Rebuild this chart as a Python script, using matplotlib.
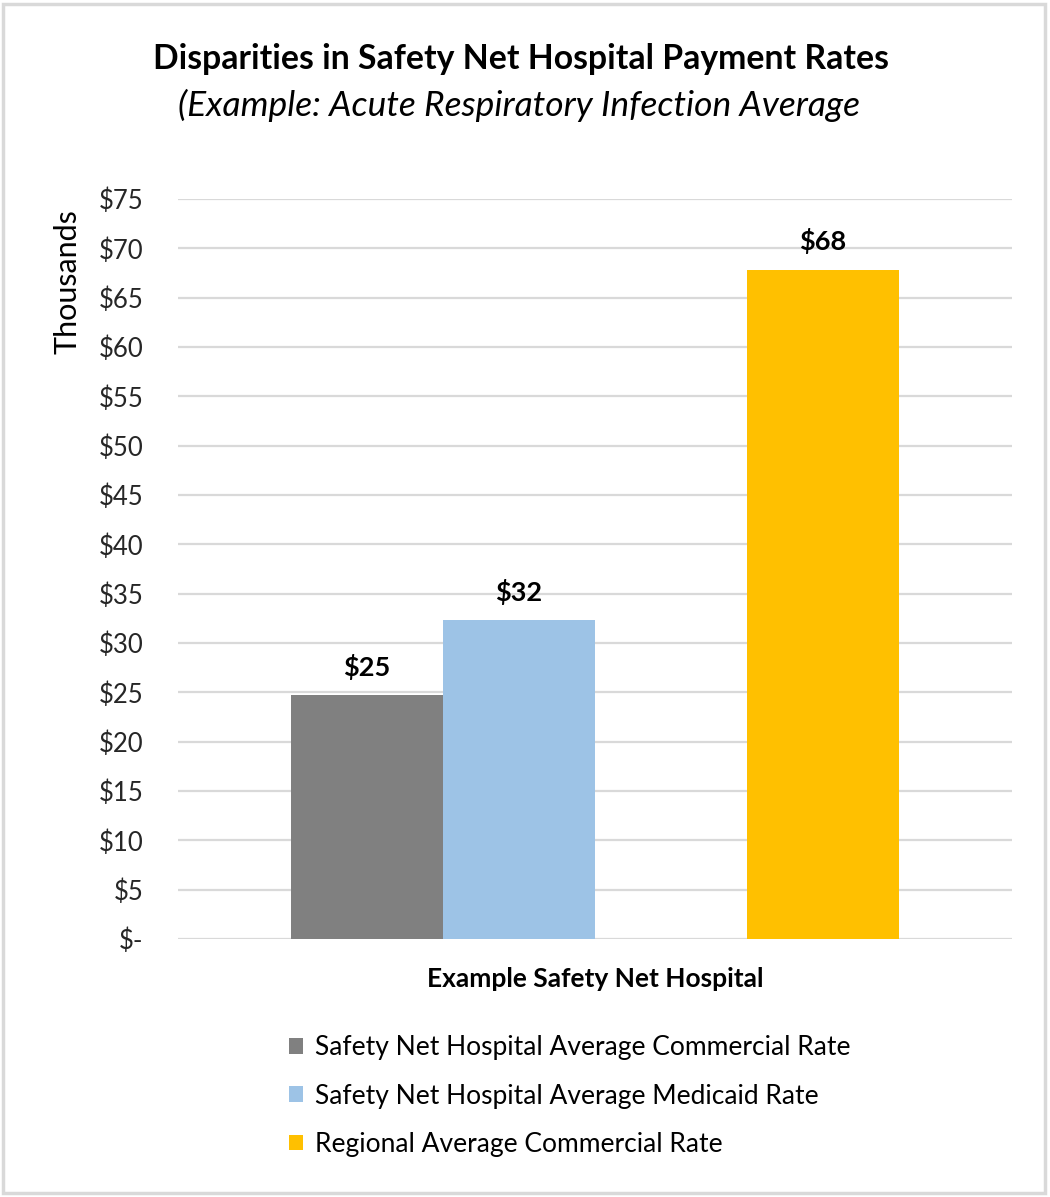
import matplotlib
matplotlib.use("Agg")
import matplotlib.pyplot as plt
from matplotlib.patches import Rectangle, Patch

series = ["Safety Net Hospital Average Commercial Rate",
          "Safety Net Hospital Average Medicaid Rate",
          "Regional Average Commercial Rate"]
values = [24.7, 32.3, 67.8]
labels = ["$25", "$32", "$68"]
colors = ["#808080", "#9dc3e6", "#ffc000"]
category = "Example Safety Net Hospital"
yticks = list(range(0, 80, 5))
yticklabels = ["$-"] + [f"${v}" for v in yticks[1:]]

plt.rcParams['font.family'] = ['Lato', 'DejaVu Sans']

fig = plt.figure(figsize=(10.5, 11.97), dpi=100)
fig.patches.append(Rectangle((0.003, 0.003), 0.992, 0.994, transform=fig.transFigure,
                             fill=False, edgecolor="#d9d9d9", linewidth=2.5))

ax = fig.add_axes([0.1695, 0.2155, 0.7943, 0.6182])
offsets = [-1.5, -0.5, 1.5]
for off, v, c, lab in zip(offsets, values, colors, labels):
    ax.bar(off, v, width=1.0, color=c, zorder=3)
    ax.text(off, v + 1.6, lab, ha="center", va="bottom", fontsize=19.5, fontweight="bold")

ax.set_xlim(-2.743, 2.743)
ax.set_ylim(0, 75)
ax.set_yticks(yticks)
ax.set_yticklabels(yticklabels, fontsize=18.5, color="#262626")
ax.set_xticks([0])
ax.set_xticklabels([category], fontsize=19, fontweight="bold")
ax.tick_params(axis="both", length=0)
ax.tick_params(axis="y", pad=25)
ax.tick_params(axis="x", pad=20)
ax.grid(axis="y", color="#d9d9d9", linewidth=1.6, zorder=0)
for s in ax.spines.values():
    s.set_visible(False)
ax.set_ylabel("Thousands", fontsize=22)
ax.yaxis.set_label_coords(-0.116, 0.888)

fig.text(0.496, 0.951, "Disparities in Safety Net Hospital Payment Rates",
         ha="center", va="center", fontsize=24.3, fontweight="bold")
fig.text(0.494, 0.912, "(Example: Acute Respiratory Infection Average",
         ha="center", va="center", fontsize=25.5, style="italic")

handles = [Patch(facecolor=c, edgecolor="none") for c in colors]
fig.legend(handles, series, loc="upper left", bbox_to_anchor=(0.275, 0.135),
           frameon=False, fontsize=19, handlelength=0.55, handleheight=0.55,
           handletextpad=0.45, labelspacing=0.88, borderaxespad=0, borderpad=0)

fig.savefig("out.png", dpi=100)
